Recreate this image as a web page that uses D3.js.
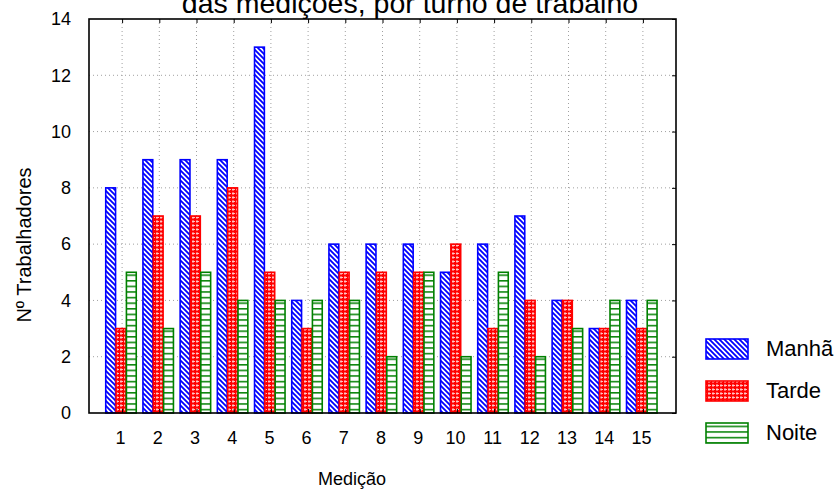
<!DOCTYPE html>
<html><head><meta charset="utf-8">
<script src="https://cdn.jsdelivr.net/npm/d3@7/dist/d3.min.js"></script>
<style>body{margin:0;background:#fff}svg{display:block}text{font-family:Arial,"Liberation Sans",sans-serif}</style>
</head><body><svg id="c" width="840" height="492"></svg>
<script>
const categories = ["1","2","3","4","5","6","7","8","9","10","11","12","13","14","15"];
const seriesNames = ["Manhã","Tarde","Noite"];
const manha = [8,9,9,9,13,4,6,6,6,5,6,7,4,3,4];
const tarde = [3,7,7,8,5,3,5,5,5,6,3,4,4,3,3];
const noite = [5,3,5,4,4,4,4,2,5,2,5,2,3,4,4];
const yTicks = [0,2,4,6,8,10,12,14];
const title = "das medições, por turno de trabalho";
const xTitle = "Medição";
const yTitle = "Nº Trabalhadores";

const values = [manha, tarde, noite];
const colors = ["#0000ff","#ff0000","#008000"];
const patIds = ["pManha","pTarde","pNoite"];
const FONT = "Arial, Liberation Sans, sans-serif";

const svg = d3.select("#c");
const L=89,R=676,T=19,B=413;
const x = d3.scaleLinear().domain([0.11,15.89]).range([L,R]);
const y = d3.scaleLinear().domain([0,14]).range([B,T]);
const inner = d3.scaleBand().domain(seriesNames).range([-0.44,0.38]).paddingInner(0.05);

// patterns
const defs = svg.append("defs");
const p1 = defs.append("pattern").attr("id",patIds[0]).attr("patternUnits","userSpaceOnUse").attr("width",5).attr("height",5);
p1.append("rect").attr("width",5).attr("height",5).attr("fill","#fff");
p1.append("path").attr("d","M-1,-1 L6,6 M-1,4 L1,6 M4,-1 L6,1").attr("stroke","#0000ff").attr("stroke-width",1.8);
const p2 = defs.append("pattern").attr("id",patIds[1]).attr("patternUnits","userSpaceOnUse").attr("width",4).attr("height",4);
p2.append("rect").attr("width",4).attr("height",4).attr("fill","#ff0000");
p2.append("path").attr("d","M1,0 V3 M0,1.5 H3").attr("stroke","#ffd0d0").attr("stroke-width",0.9);
const p3 = defs.append("pattern").attr("id",patIds[2]).attr("patternUnits","userSpaceOnUse").attr("width",6).attr("height",5.6);
p3.append("rect").attr("width",6).attr("height",5.6).attr("fill","#fff");
p3.append("path").attr("d","M0,0.8 H6").attr("stroke","#008000").attr("stroke-width",1.5);

// title (clipped at top in the reference)
svg.append("text").attr("x",410).attr("y",12.5).attr("text-anchor","middle").attr("font-size",28.5).attr("fill","#000").text(title);

// grid
const g = svg.append("g");
g.selectAll(".gy").data(yTicks.filter(d=>d>0&&d<14)).join("line")
 .attr("x1",L).attr("x2",R).attr("y1",d=>y(d)).attr("y2",d=>y(d))
 .attr("stroke","#a0a0a0").attr("stroke-width",1).attr("stroke-dasharray","1,3");
g.selectAll(".gx").data(categories).join("line")
 .attr("x1",(d,i)=>x(i+1)).attr("x2",(d,i)=>x(i+1)).attr("y1",T).attr("y2",B)
 .attr("stroke","#a0a0a0").attr("stroke-width",1).attr("stroke-dasharray","1,3");

// bars
seriesNames.forEach((s,si)=>{
  svg.append("g").selectAll("rect").data(values[si]).join("rect")
    .attr("x",(d,i)=>x(i+1+inner(s)))
    .attr("width",x(inner.bandwidth())-x(0))
    .attr("y",d=>y(d))
    .attr("height",d=>y(0)-y(d))
    .attr("fill",`url(#${patIds[si]})`)
    .attr("stroke",colors[si]).attr("stroke-width",1.6);
});

// frame
svg.append("rect").attr("x",L).attr("y",T).attr("width",R-L).attr("height",B-T)
  .attr("fill","none").attr("stroke","#000").attr("stroke-width",1.6);

// axes
const ax = svg.append("g").attr("transform",`translate(0,${B})`)
  .call(d3.axisBottom(x).tickValues(d3.range(1,16)).tickFormat((d,i)=>categories[i]).tickSize(-4).tickPadding(18));
ax.select(".domain").remove();
ax.selectAll("text").attr("font-size",18).attr("fill","#000").attr("font-family",FONT).attr("dx",-2);
const axT = svg.append("g").attr("transform",`translate(0,${T})`)
  .call(d3.axisTop(x).tickValues(d3.range(1,16)).tickFormat("").tickSize(-4));
axT.select(".domain").remove();
const ay = svg.append("g").attr("transform",`translate(${L},0)`)
  .call(d3.axisLeft(y).tickValues(yTicks).tickSize(0).tickPadding(18));
ay.select(".domain").remove();
ay.selectAll("text").attr("font-size",18).attr("fill","#000").attr("font-family",FONT);
const ayR = svg.append("g").attr("transform",`translate(${R},0)`)
  .call(d3.axisRight(y).tickValues(yTicks).tickFormat("").tickSize(-4));
ayR.select(".domain").remove();

// axis titles
svg.append("text").attr("x",352).attr("y",485).attr("text-anchor","middle").attr("font-size",18).text(xTitle);
svg.append("text").attr("transform","translate(31,245) rotate(-90)").attr("text-anchor","middle").attr("font-size",20).text(yTitle);

// legend
const lg = svg.append("g");
seriesNames.forEach((s,si)=>{
  const yy = 339 + si*42;
  lg.append("rect").attr("x",706).attr("y",yy).attr("width",42).attr("height",20)
    .attr("fill",`url(#${patIds[si]})`).attr("stroke",colors[si]).attr("stroke-width",1.6);
  lg.append("text").attr("x",766).attr("y",yy+17).attr("font-size",22).text(s);
});
</script></body></html>
